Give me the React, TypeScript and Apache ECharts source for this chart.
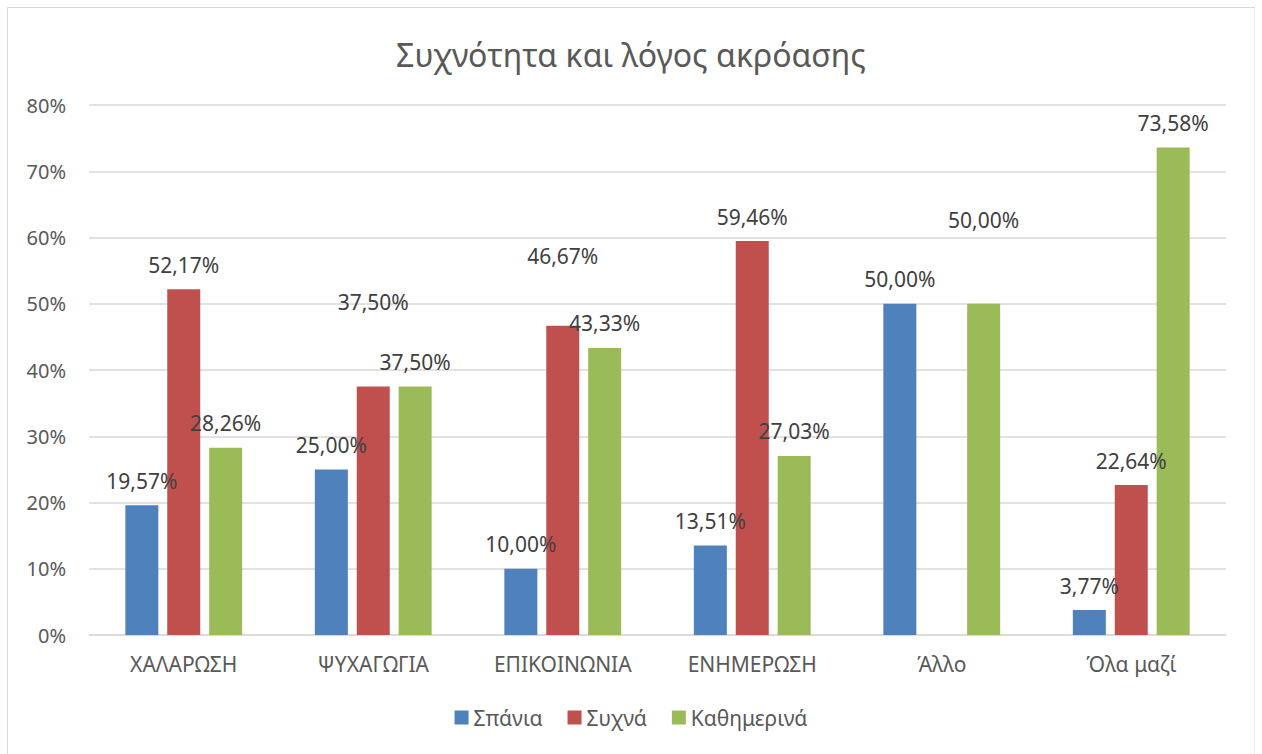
import React, { useEffect, useRef } from "react";
import * as echarts from "echarts";

const titleText = "Συχνότητα και λόγος ακρόασης";
const categories = ["ΧΑΛΑΡΩΣΗ", "ΨΥΧΑΓΩΓΙΑ", "ΕΠΙΚΟΙΝΩΝΙΑ", "ΕΝΗΜΕΡΩΣΗ", "Άλλο", "Όλα μαζί"];
const seriesNames = ["Σπάνια", "Συχνά", "Καθημερινά"];
const spania = [19.57, 25.0, 10.0, 13.51, 50.0, 3.77];
const syxna: (number | null)[] = [52.17, 37.5, 46.67, 59.46, null, 22.64];
const kathimerina = [28.26, 37.5, 43.33, 27.03, 50.0, 73.58];
const colors = ["#4F81BD", "#C0504D", "#9BBB59"];
const yTicks = { min: 0, max: 80, interval: 10 };
// extra lift (px) of a few data labels, as placed in the original
const labelLift: Record<string, number> = {
  "1|1": 60,
  "1|2": 45,
  "2|4": 59,
};

const FONT = "'Noto Sans', sans-serif";

export default function App() {
  const ref = useRef<HTMLDivElement>(null);
  useEffect(() => {
    if (!ref.current) return;
    const chart = echarts.init(ref.current, undefined, { renderer: "svg" });
    const all = [spania, syxna, kathimerina];
    const fmt = (v: number) => v.toFixed(2).replace(".", ",") + "%";
    const series = all.map((arr, si) => ({
      name: seriesNames[si],
      type: "bar",
      barWidth: 33,
      barGap: "27%",
      itemStyle: { color: colors[si] },
      data: arr.map((v, ci) => {
        if (v === null) return "-";
        const lift = labelLift[`${si}|${ci}`] || 0;
        return {
          value: v,
          label: { offset: [0, -lift] },
        };
      }),
      label: {
        show: true,
        position: "top",
        distance: 14,
        color: "#404040",
        fontSize: 21,
        fontFamily: FONT,
        formatter: (p: any) => fmt(p.value),
      },
    }));
    chart.setOption({
      animation: false,
      textStyle: { fontFamily: FONT },
      title: {
        text: titleText,
        left: "center",
        top: 26,
        textStyle: { fontSize: 32, fontWeight: "normal", color: "#595959", fontFamily: FONT },
      },
      graphic: [
        {
          type: "rect",
          shape: { x: 0.5, y: 0.5, width: 1247.5, height: 800 },
          style: { fill: "none", stroke: "#d9d9d9", lineWidth: 1 },
          silent: true,
          z: -1,
        },
      ],
      legend: {
        data: seriesNames,
        bottom: 21,
        left: "center",
        itemWidth: 14,
        itemHeight: 14,
        itemGap: 25,
        icon: "rect",
        textStyle: { fontSize: 21, color: "#595959", fontFamily: FONT },
      },
      grid: { left: 82, right: 29, top: 98, bottom: 119, containLabel: false },
      xAxis: {
        type: "category",
        data: categories,
        axisLine: { lineStyle: { color: "#d9d9d9", width: 1.5 } },
        axisTick: { show: false },
        axisLabel: { color: "#595959", fontSize: 21, margin: 18, fontFamily: FONT },
      },
      yAxis: {
        type: "value",
        min: yTicks.min,
        max: yTicks.max,
        interval: yTicks.interval,
        axisLine: { show: false },
        axisTick: { show: false },
        splitLine: { lineStyle: { color: "#d9d9d9", width: 1.5 } },
        axisLabel: {
          color: "#595959",
          fontSize: 20,
          margin: 23,
          fontFamily: FONT,
          formatter: (v: number) => `${v}%`,
        },
      },
      series,
    });
    return () => chart.dispose();
  }, []);
  return (
    <div
      ref={ref}
      style={{ position: "absolute", left: 7, top: 7, width: 1248, height: 747, background: "#fff" }}
    />
  );
}
